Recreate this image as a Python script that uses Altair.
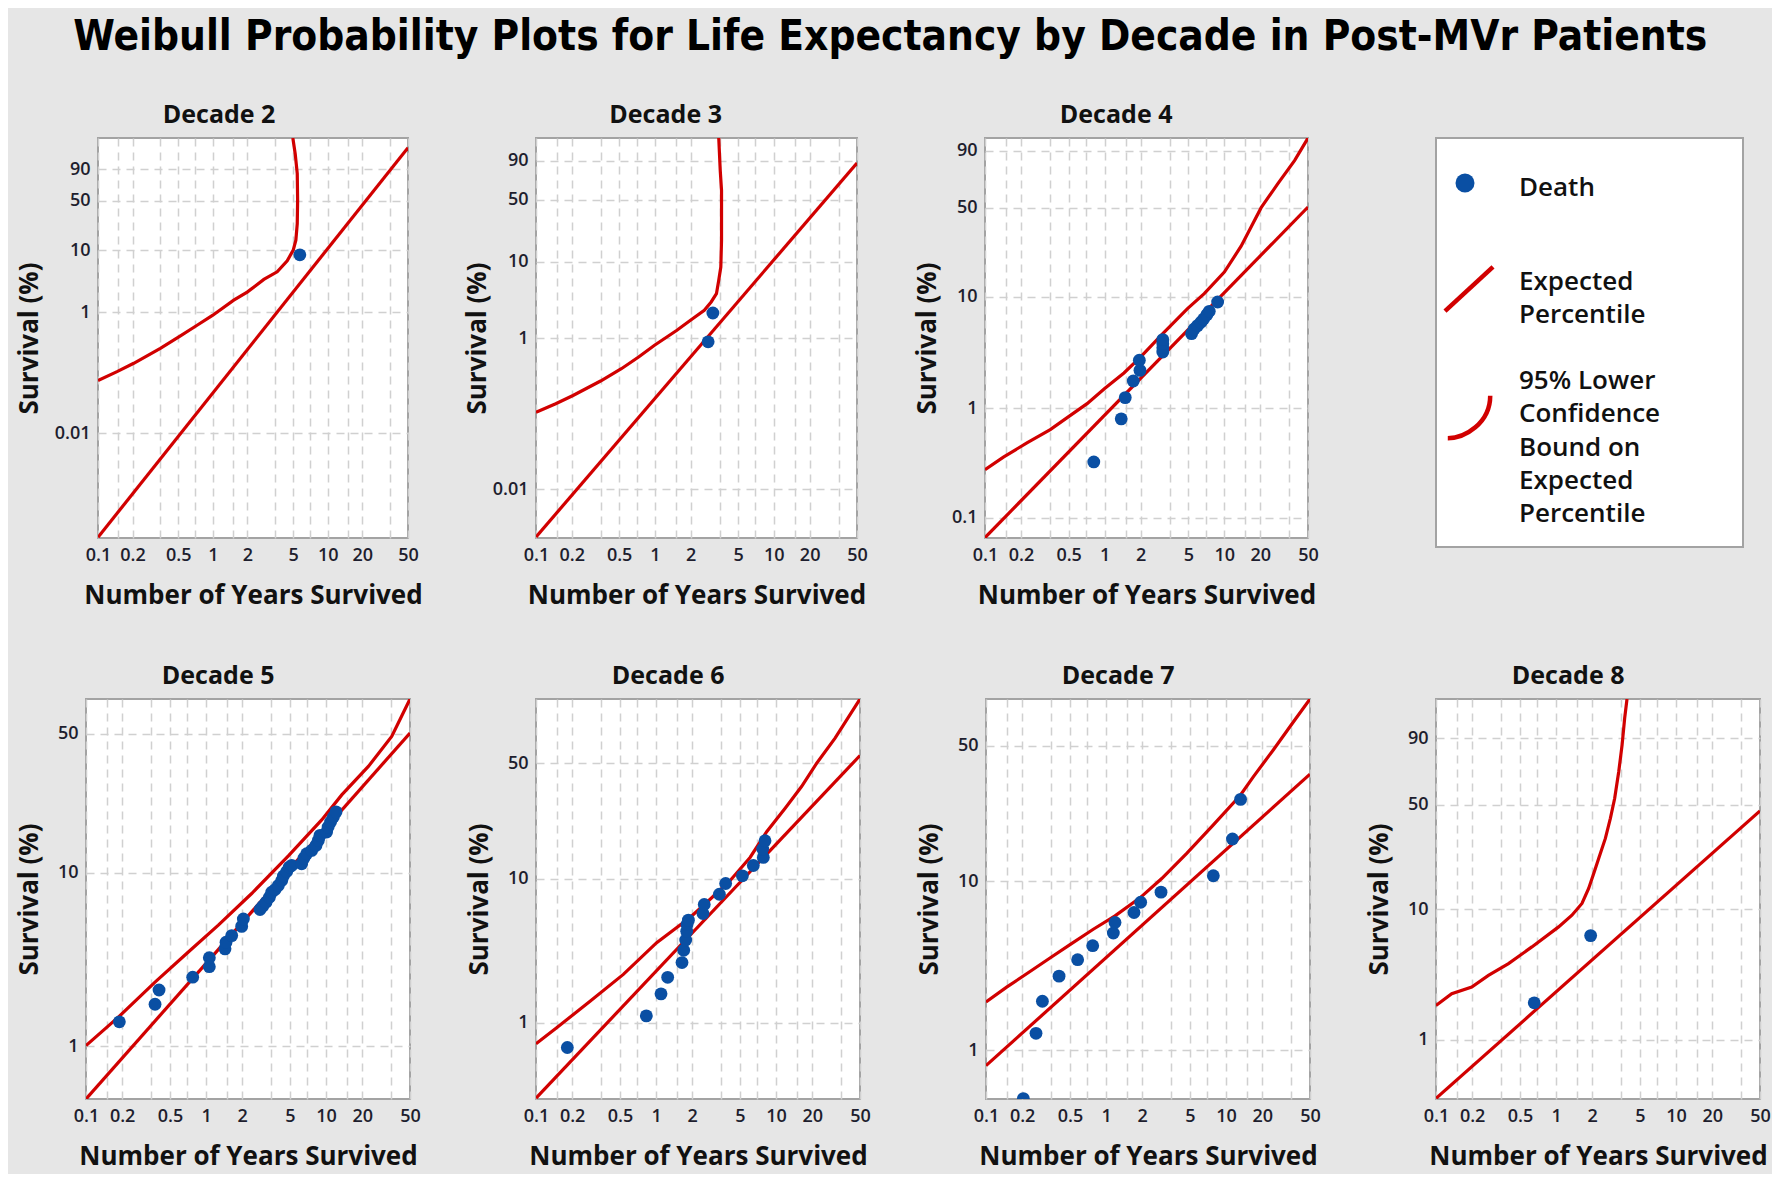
import math
import altair as alt
import pandas as pd

# ---------------- text ----------------
TITLE = "Weibull Probability Plots for Life Expectancy by Decade in Post-MVr Patients"
X_TITLE = "Number of Years Survived"
Y_TITLE = "Survival (%)"
LEGEND_LABELS = ["Death", "Expected\nPercentile",
                 "95% Lower\nConfidence\nBound on\nExpected\nPercentile"]

# x grid / tick positions (years)
X_GRID = [0.1, 0.15, 0.2, 0.35, 0.5, 0.7, 1, 1.5, 2, 3.5, 5, 7, 10, 15, 20, 35, 50]
X_LABELS = [0.1, 0.2, 0.5, 1, 2, 5, 10, 20, 50]

# ---------------- data ----------------
# Decade 2
D2_DEATH_YEARS = [5.72]
D2_DEATH_SURV = [8.5]
D2_FIT_YEARS = [0.1, 50]
D2_FIT_SURV = [0.00019, 99.47]
D2_BOUND_YEARS = [0.1, 0.1465, 0.2047, 0.349, 0.522, 0.729, 0.992, 1.52, 1.99, 2.78,
                  3.63, 4.44, 5.01, 5.28, 5.43, 5.47, 5.43, 5.21, 4.97]
D2_BOUND_SURV = [0.074, 0.104, 0.143, 0.253, 0.404, 0.606, 0.88, 1.57, 2.13, 3.42,
                 4.55, 6.83, 10.1, 14.4, 25.3, 50.8, 85.8, 98.46, 99.949]
D2_Y_RANGE = [0.000185, 99.949]
D2_Y_TICKS = [90, 50, 10, 1, 0.01]

# Decade 3
D3_DEATH_YEARS = [3.07, 2.80]
D3_DEATH_SURV = [2.16, 0.90]
D3_FIT_YEARS = [0.1, 50]
D3_FIT_SURV = [0.00231, 88.3]
D3_BOUND_YEARS = [0.1, 0.1465, 0.2047, 0.349, 0.522, 0.729, 0.992, 1.52, 1.99, 2.60,
                  2.97, 3.29, 3.44, 3.58, 3.63, 3.63, 3.54, 3.44]
D3_BOUND_SURV = [0.105, 0.136, 0.175, 0.272, 0.396, 0.566, 0.81, 1.27, 1.73, 2.34,
                 3.01, 3.86, 5.75, 8.52, 18.2, 60.5, 82.0, 99.0]
D3_Y_RANGE = [0.00224, 99.0]
D3_Y_TICKS = [90, 50, 10, 1, 0.01]

# Decade 4
D4_DEATH_YEARS = [0.811, 1.375, 1.486, 1.734, 1.972, 1.948, 3.06, 3.06, 3.06, 3.06,
                  5.32, 5.60, 5.97, 6.37, 6.71, 7.15, 7.48, 8.79]
D4_DEATH_SURV = [0.323, 0.80, 1.25, 1.77, 2.21, 2.73, 3.24, 3.54, 3.85, 4.18,
                 4.73, 5.21, 5.58, 5.97, 6.39, 6.98, 7.47, 9.02]
D4_FIT_YEARS = [0.1, 50]
D4_FIT_SURV = [0.0655, 50.4]
D4_BOUND_YEARS = [0.1, 0.1425, 0.224, 0.351, 0.517, 0.713, 1.0, 1.449, 2.0, 3.06,
                  4.92, 6.79, 10.0, 13.8, 20.3, 28.0, 38.7, 50]
D4_BOUND_SURV = [0.275, 0.358, 0.482, 0.638, 0.861, 1.10, 1.51, 2.09, 2.92, 4.73,
                 7.89, 10.66, 16.3, 26.4, 49.9, 68.3, 84.7, 95.06]
D4_Y_RANGE = [0.065, 95.06]
D4_Y_TICKS = [90, 50, 10, 1, 0.1]

# Decade 5
D5_DEATH_YEARS = [0.1896, 0.376, 0.406, 0.774, 1.065, 1.065, 1.439, 1.467, 1.636, 1.981,
                  2.046, 2.816, 2.964, 3.16, 3.37, 3.52, 3.76, 4.00, 4.27, 4.41,
                  4.70, 4.94, 5.17, 6.26, 6.55, 6.89, 7.59, 8.24, 8.62, 8.90,
                  10.1, 10.4, 10.9, 11.5, 12.1]
D5_DEATH_SURV = [1.39, 1.76, 2.13, 2.53, 2.91, 3.28, 3.69, 4.03, 4.40, 4.97,
                 5.48, 6.21, 6.48, 6.83, 7.29, 7.78, 8.05, 8.49, 9.06, 9.59,
                 10.17, 10.76, 10.99, 11.23, 12.07, 12.75, 13.30, 14.16, 15.08, 16.05,
                 16.73, 17.79, 18.92, 20.11, 21.36]
D5_FIT_YEARS = [0.1, 50]
D5_FIT_SURV = [0.491, 50.3]
D5_BOUND_YEARS = [0.1, 0.186, 0.376, 0.712, 1.266, 2.40, 4.85, 9.19, 13.5, 22.5, 35.2, 50]
D5_BOUND_SURV = [1.01, 1.48, 2.37, 3.54, 5.05, 7.65, 12.4, 19.4, 26.1, 35.9, 48.7, 67.0]
D5_Y_RANGE = [0.491, 67.0]
D5_Y_TICKS = [50, 10, 1]

# Decade 6
D6_DEATH_YEARS = [0.1824, 0.830, 1.10, 1.25, 1.645, 1.70, 1.766, 1.80, 1.81, 1.86,
                  2.46, 2.52, 3.37, 3.80, 5.24, 6.46, 7.83, 7.73, 8.09]
D6_DEATH_SURV = [0.67, 1.12, 1.60, 2.09, 2.65, 3.23, 3.81, 4.37, 4.87, 5.22,
                 5.80, 6.69, 7.86, 9.29, 10.46, 12.26, 13.85, 15.71, 17.77]
D6_FIT_YEARS = [0.1, 50]
D6_FIT_SURV = [0.294, 54.4]
D6_BOUND_YEARS = [0.1, 0.1486, 0.282, 0.534, 1.012, 1.919, 2.64, 4.13, 6.07, 8.35,
                  11.9, 16.3, 21.8, 31.0, 50]
D6_BOUND_SURV = [0.712, 0.923, 1.42, 2.19, 3.65, 5.44, 6.90, 9.69, 13.85, 20.3,
                 28.3, 37.7, 50.0, 64.7, 86.1]
D6_Y_RANGE = [0.29, 86.1]
D6_Y_TICKS = [50, 10, 1]

# Decade 7
D7_DEATH_YEARS = [0.2047, 0.261, 0.295, 0.406, 0.580, 0.774, 1.15, 1.188, 1.710, 1.943,
                  2.87, 7.83, 11.3, 13.2]
D7_DEATH_SURV = [0.51, 1.26, 1.96, 2.77, 3.47, 4.20, 4.99, 5.75, 6.58, 7.55,
                 8.64, 10.73, 17.24, 28.0]
D7_FIT_YEARS = [0.1, 50]
D7_FIT_SURV = [0.805, 37.3]
D7_BOUND_YEARS = [0.1, 0.1486, 0.2326, 0.3413, 0.501, 0.783, 1.188, 1.919, 2.91, 4.70,
                  7.83, 13.1, 16.9, 24.8, 36.3, 50]
D7_BOUND_SURV = [1.94, 2.38, 2.95, 3.55, 4.26, 5.25, 6.29, 8.01, 10.35, 14.35,
                 20.56, 29.3, 36.3, 48.1, 61.9, 73.5]
D7_Y_RANGE = [0.507, 73.5]
D7_Y_TICKS = [50, 10, 1]

# Decade 8
D8_DEATH_YEARS = [0.658, 1.942]
D8_DEATH_SURV = [1.94, 6.36]
D8_FIT_YEARS = [0.1, 50]
D8_FIT_SURV = [0.35, 46.2]
D8_BOUND_YEARS = [0.1, 0.1352, 0.1985, 0.2734, 0.4017, 0.629, 1.05, 1.356, 1.644, 1.869,
                  2.06, 2.265, 2.575, 2.835, 3.08, 3.33, 3.55, 3.73, 3.90]
D8_BOUND_SURV = [1.85, 2.28, 2.57, 3.16, 3.89, 5.22, 7.40, 9.05, 11.06, 14.23,
                 18.24, 23.2, 31.5, 41.9, 54.1, 71.7, 87.0, 96.3, 99.05]
D8_Y_RANGE = [0.346, 99.05]
D8_Y_TICKS = [90, 50, 10, 1]

# ---------------- style ----------------
BLUE = "#0a4fa3"
RED = "#d10000"
GRID = "#d0d0d0"
BG = "#e6e6e6"
BORDER = "#a3a3a3"
FONT = "Open Sans"
TITLE_FONT = "Liberation Sans Narrow, DejaVu Sans Condensed, sans-serif"

W_EXPR = "log(-log(1 - datum.surv / 100))"


def weib(p):
    return math.log(-math.log(1 - p / 100.0))


def frame(years, surv):
    return pd.DataFrame({"years": years, "surv": surv, "idx": list(range(len(years)))})


LABEL_LIST = ",".join(format(v, "g") for v in X_LABELS)


def make_panel(name, death_x, death_p, fit_x, fit_p, bound_x, bound_p,
               yrange, yticks, width, extent):
    x_axis = alt.Axis(
        values=X_GRID,
        labelExpr=f"indexof([{LABEL_LIST}], datum.value) >= 0 ? format(datum.value, '~g') : ''",
        title=X_TITLE, titlePadding=18,
    )
    y_axis = alt.Axis(
        values=[weib(t) for t in yticks],
        labelExpr="format(100 * (1 - exp(-exp(datum.value))), '.2~g')",
        title=Y_TITLE, titlePadding=6, minExtent=extent, maxExtent=extent,
    )
    xs = alt.Scale(type="log", domain=[0.1, 50], nice=False)
    ys = alt.Scale(domain=[weib(yrange[0]), weib(yrange[1])], nice=False, zero=False)
    x = alt.X("years:Q", scale=xs, axis=x_axis)
    y = alt.Y("w:Q", scale=ys, axis=y_axis)

    bound = (alt.Chart(frame(bound_x, bound_p)).transform_calculate(w=W_EXPR)
             .mark_line(color=RED, strokeWidth=3.2, clip=True)
             .encode(x=x, y=y, order="idx:Q"))
    fit = (alt.Chart(frame(fit_x, fit_p)).transform_calculate(w=W_EXPR)
           .mark_line(color=RED, strokeWidth=3.2, clip=True)
           .encode(x=x, y=y, order="idx:Q"))
    pts = (alt.Chart(frame(death_x, death_p)).transform_calculate(w=W_EXPR)
           .mark_circle(color=BLUE, size=165, opacity=1, clip=True)
           .encode(x=x, y=y))
    return alt.layer(bound, fit, pts).properties(
        width=width, height=400,
        title=alt.TitleParams(name, font=FONT, fontSize=25, fontWeight="bold",
                              color="#111111", anchor="middle", frame="bounds", offset=10),
    )


d2 = make_panel("Decade 2", D2_DEATH_YEARS, D2_DEATH_SURV, D2_FIT_YEARS, D2_FIT_SURV,
                D2_BOUND_YEARS, D2_BOUND_SURV, D2_Y_RANGE, D2_Y_TICKS, 310, 50)
d3 = make_panel("Decade 3", D3_DEATH_YEARS, D3_DEATH_SURV, D3_FIT_YEARS, D3_FIT_SURV,
                D3_BOUND_YEARS, D3_BOUND_SURV, D3_Y_RANGE, D3_Y_TICKS, 321, 40)
d4 = make_panel("Decade 4", D4_DEATH_YEARS, D4_DEATH_SURV, D4_FIT_YEARS, D4_FIT_SURV,
                D4_BOUND_YEARS, D4_BOUND_SURV, D4_Y_RANGE, D4_Y_TICKS, 323, 39)
d5 = make_panel("Decade 5", D5_DEATH_YEARS, D5_DEATH_SURV, D5_FIT_YEARS, D5_FIT_SURV,
                D5_BOUND_YEARS, D5_BOUND_SURV, D5_Y_RANGE, D5_Y_TICKS, 324, 38)
d6 = make_panel("Decade 6", D6_DEATH_YEARS, D6_DEATH_SURV, D6_FIT_YEARS, D6_FIT_SURV,
                D6_BOUND_YEARS, D6_BOUND_SURV, D6_Y_RANGE, D6_Y_TICKS, 324, 38)
d7 = make_panel("Decade 7", D7_DEATH_YEARS, D7_DEATH_SURV, D7_FIT_YEARS, D7_FIT_SURV,
                D7_BOUND_YEARS, D7_BOUND_SURV, D7_Y_RANGE, D7_Y_TICKS, 324, 38)
d8 = make_panel("Decade 8", D8_DEATH_YEARS, D8_DEATH_SURV, D8_FIT_YEARS, D8_FIT_SURV,
                D8_BOUND_YEARS, D8_BOUND_SURV, D8_Y_RANGE, D8_Y_TICKS, 324, 38)

# ---------------- legend panel ----------------
def one(label):
    return pd.DataFrame({"label": [label]})

leg_dot = alt.Chart(one(LEGEND_LABELS[0])).mark_point(
    shape="circle", filled=True, size=361, color=BLUE, opacity=1
).encode(x=alt.value(29), y=alt.value(45))
leg_line = alt.Chart(one(LEGEND_LABELS[1])).mark_point(
    shape="M-1,0.92L1,-0.92", filled=False, size=2304, color=RED, strokeWidth=4.5, opacity=1
).encode(x=alt.value(33), y=alt.value(151))
leg_curve = alt.Chart(one(LEGEND_LABELS[2])).mark_point(
    shape="M-1,1C-0.2,1 1,0.3 1,-1", filled=False, size=1800, color=RED, strokeWidth=4.5, opacity=1
).encode(x=alt.value(33), y=alt.value(279))

def leg_text(label, ypos):
    return alt.Chart(one(label)).mark_text(
        align="left", baseline="alphabetic", lineBreak="\n", lineHeight=33.3,
        font=FONT, fontSize=26, fontWeight=600, color="#111111"
    ).encode(x=alt.value(83), y=alt.value(ypos), text="label:N")

legend = alt.layer(
    leg_dot, leg_line, leg_curve,
    leg_text(LEGEND_LABELS[0], 58),
    leg_text(LEGEND_LABELS[1], 152),
    leg_text(LEGEND_LABELS[2], 251),
).properties(width=307, height=409)

# invisible 1px cell: puts the rows in a second grid column, where the
# flow layout lines the rows up on their outer bounds
def spacer():
    return alt.Chart(one("")).mark_point(opacity=0).encode(
        x=alt.value(0), y=alt.value(0)
    ).properties(width=1, height=1,
                 view=alt.ViewBackground(strokeOpacity=0, fillOpacity=0, strokeWidth=0))

# ---------------- layout ----------------
row1 = alt.hconcat(d2, d3, d4, legend, spacing=128, bounds="flush")
row2 = alt.hconcat(d5, d6, d7, d8, spacing=126, bounds="flush")

chart = alt.concat(
    spacer(), row1, spacer(), row2, columns=2, align="none",
    spacing={"row": 54, "column": 0},
    title=alt.TitleParams(TITLE, font=TITLE_FONT, fontSize=42, fontWeight="bold",
                          color="#000000", anchor="middle", offset=43),
).configure(
    background=BG,
    padding={"left": 1, "top": 8, "right": 0, "bottom": 4},
).configure_view(
    fill="white", stroke=BORDER, strokeWidth=2,
).configure_axis(
    labelFont=FONT, labelFontSize=18, labelFontWeight=600, labelColor="#1e1e2e",
    titleFont=FONT, titleFontSize=26, titleFontWeight="bold", titleColor="#111111",
    domain=False, ticks=False, grid=True, gridColor=GRID, gridDash=[8, 6], gridWidth=1.5,
    labelPadding=8, labelOverlap=False, labelFlush=False,
)

chart.save("out.html", embed_options={"renderer": "svg", "actions": False})
